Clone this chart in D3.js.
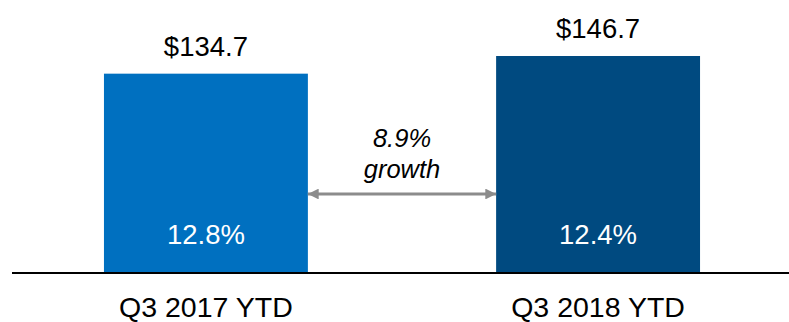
<!DOCTYPE html>
<html>
<head>
<meta charset="utf-8">
<script src="https://cdnjs.cloudflare.com/ajax/libs/d3/7.8.5/d3.min.js"></script>
<style>
  html, body { margin: 0; padding: 0; background: #fff; }
  svg { display: block; font-family: "Liberation Sans", Arial, sans-serif; }
</style>
</head>
<body>
<svg id="chart" width="789" height="322"></svg>
<script>
var categories = ['Q3 2017 YTD', 'Q3 2018 YTD'];
var values = [134.7, 146.7];
var valueLabels = ['$134.7', '$146.7'];
var marginLabels = ['12.8%', '12.4%'];
var barColors = ['#0070c0', '#004a80'];
var growthLines = ['8.9%', 'growth'];

var svg = d3.select('#chart');
var baseY = 272;

var x = d3.scaleBand()
  .domain(categories)
  .range([2, 802])
  .paddingInner(0.48)
  .paddingOuter(0.26);

var y = d3.scaleLinear()
  .domain([0, d3.max(values)])
  .range([baseY, 56]);

// bars
svg.selectAll('rect.bar')
  .data(categories)
  .enter().append('rect')
  .attr('class', 'bar')
  .attr('x', function(d){ return x(d); })
  .attr('width', x.bandwidth())
  .attr('y', function(d, i){ return y(values[i]); })
  .attr('height', function(d, i){ return baseY - y(values[i]); })
  .attr('fill', function(d, i){ return barColors[i]; });

// baseline
svg.append('line')
  .attr('x1', 12).attr('x2', 789)
  .attr('y1', baseY + 1).attr('y2', baseY + 1)
  .attr('stroke', '#000')
  .attr('stroke-width', 2);

// value labels above bars
svg.selectAll('text.value')
  .data(categories)
  .enter().append('text')
  .attr('class', 'value')
  .attr('x', function(d){ return x(d) + x.bandwidth() / 2; })
  .attr('y', function(d, i){ return y(values[i]) - 18; })
  .attr('text-anchor', 'middle')
  .attr('font-size', 27.5)
  .attr('fill', '#000')
  .text(function(d, i){ return valueLabels[i]; });

// margin labels inside bars
svg.selectAll('text.margin')
  .data(categories)
  .enter().append('text')
  .attr('class', 'margin')
  .attr('x', function(d){ return x(d) + x.bandwidth() / 2; })
  .attr('y', 243.5)
  .attr('text-anchor', 'middle')
  .attr('font-size', 27.5)
  .attr('fill', '#fff')
  .text(function(d, i){ return marginLabels[i]; });

// category labels
svg.selectAll('text.cat')
  .data(categories)
  .enter().append('text')
  .attr('class', 'cat')
  .attr('x', function(d){ return x(d) + x.bandwidth() / 2; })
  .attr('y', 317)
  .attr('text-anchor', 'middle')
  .attr('font-size', 28.5)
  .attr('fill', '#000')
  .text(function(d){ return d; });

// growth arrow between bars
var ax1 = x(categories[0]) + x.bandwidth();
var ax2 = x(categories[1]);
var ay = 194;
var defs = svg.append('defs');
['start', 'end'].forEach(function(k){
  defs.append('marker')
    .attr('id', 'arrow-' + k)
    .attr('viewBox', '0 0 10 10')
    .attr('refX', k === 'end' ? 10 : 0)
    .attr('refY', 5)
    .attr('markerWidth', 4.2)
    .attr('markerHeight', 3.6)
    .attr('markerUnits', 'strokeWidth')
    .attr('orient', 'auto')
    .append('path')
    .attr('d', k === 'end' ? 'M0,0L10,5L0,10Z' : 'M10,0L0,5L10,10Z')
    .attr('fill', '#8c8c8c');
});
svg.append('line')
  .attr('x1', ax1).attr('x2', ax2)
  .attr('y1', ay).attr('y2', ay)
  .attr('stroke', '#8c8c8c')
  .attr('stroke-width', 3)
  .attr('marker-start', 'url(#arrow-start)')
  .attr('marker-end', 'url(#arrow-end)');

svg.selectAll('text.growth')
  .data(growthLines)
  .enter().append('text')
  .attr('class', 'growth')
  .attr('x', (ax1 + ax2) / 2)
  .attr('y', function(d, i){ return 147 + i * 31; })
  .attr('text-anchor', 'middle')
  .attr('font-size', 25.5)
  .attr('font-style', 'italic')
  .attr('fill', '#000')
  .text(function(d){ return d; });
</script>
</body>
</html>
